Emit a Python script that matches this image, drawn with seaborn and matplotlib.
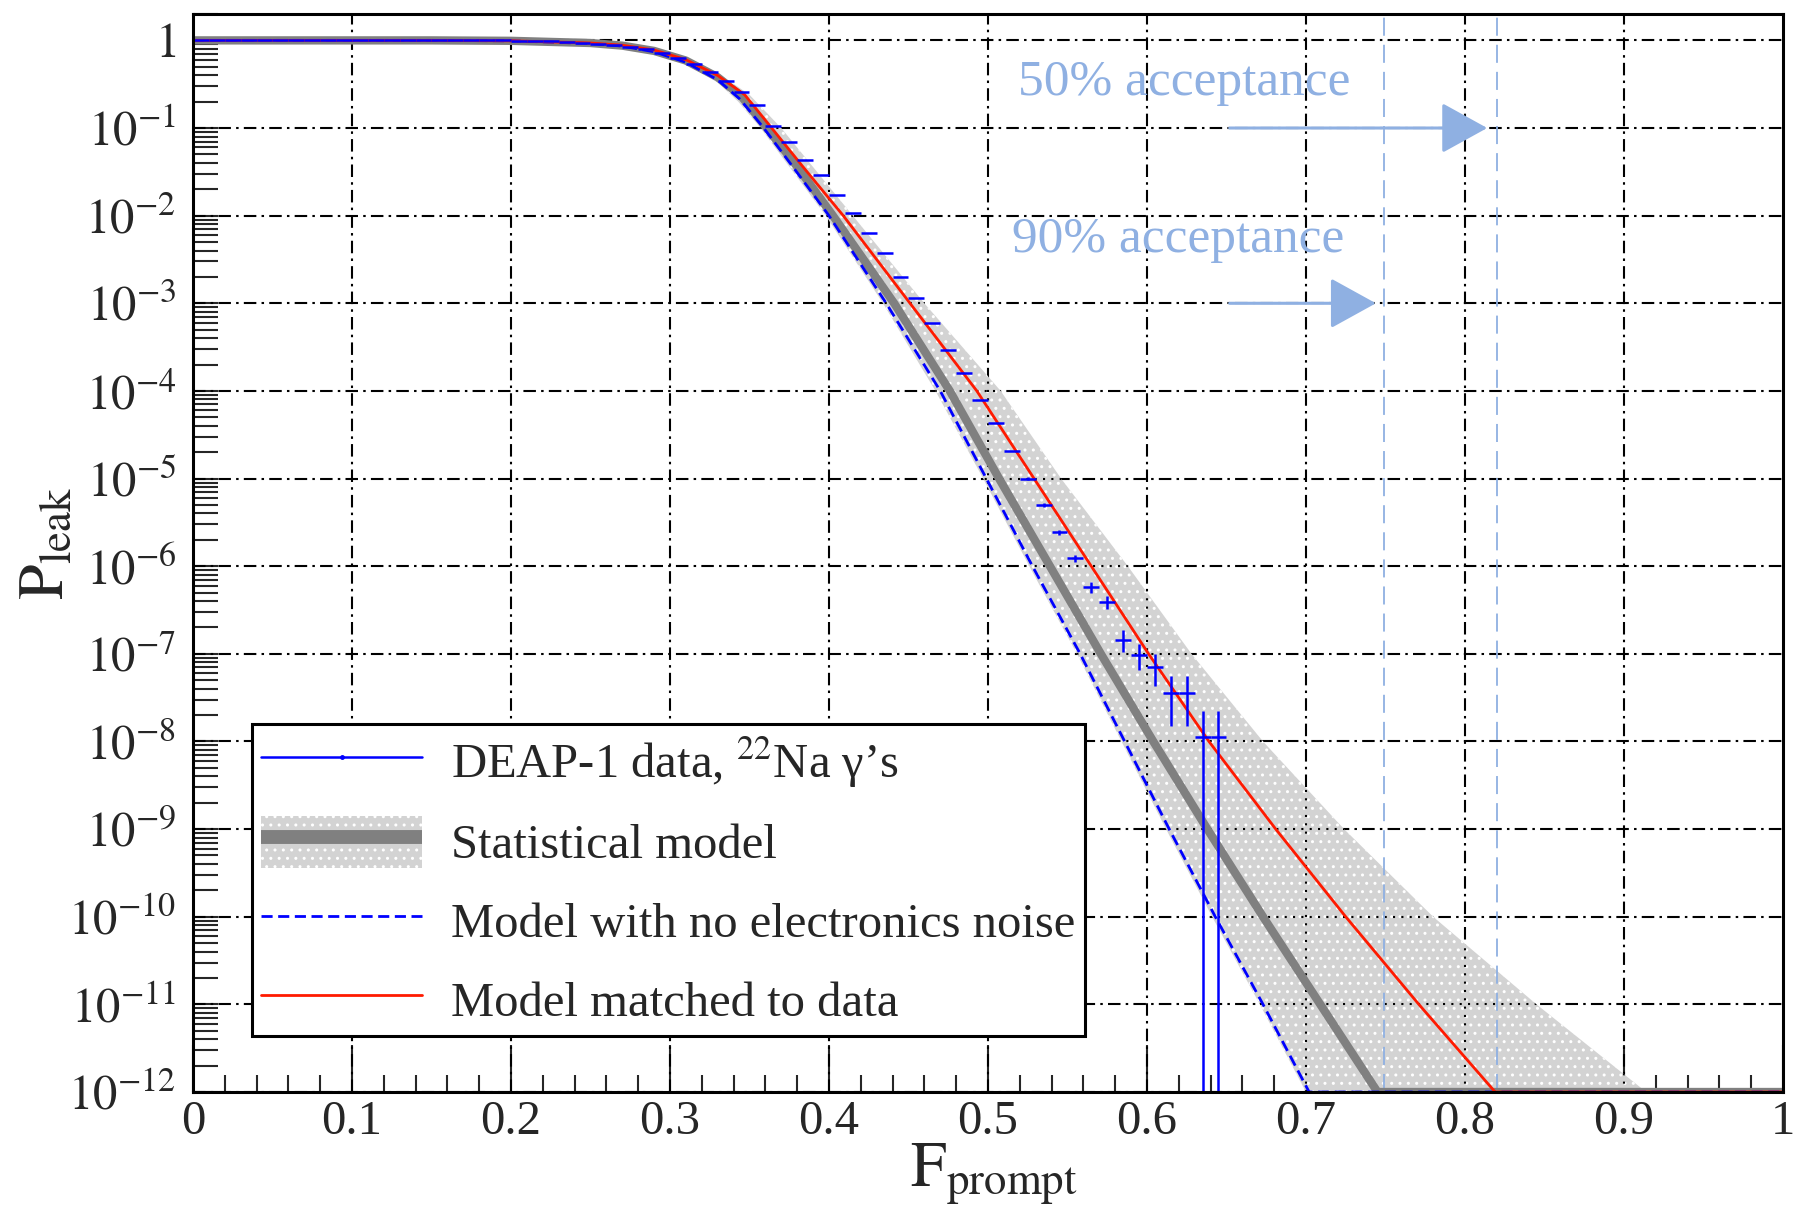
import matplotlib
matplotlib.use("Agg")
import matplotlib.pyplot as plt
from matplotlib.lines import Line2D
from matplotlib.patches import Patch
from matplotlib.ticker import FixedLocator, NullFormatter
import numpy as np
import seaborn as sns

# curves: F_prompt and log10(P_leak)
model_f = [0.0, 0.15, 0.2, 0.25, 0.27, 0.29, 0.31, 0.33, 0.345, 0.361, 0.38, 0.4025,
           0.441, 0.476, 0.507, 0.539, 0.571, 0.604, 0.638, 0.673, 0.709, 0.745, 1.0]
model_logp = [0, 0, -0.005, -0.03, -0.06, -0.12, -0.23, -0.42, -0.64, -1, -1.44, -2,
              -3, -4, -5, -6, -7, -8, -9, -10, -11, -12, -12]

matched_f = [0.0, 0.15, 0.2, 0.25, 0.27, 0.29, 0.31, 0.33, 0.347, 0.364, 0.384, 0.409,
             0.451, 0.493, 0.529, 0.565, 0.601, 0.639, 0.681, 0.725, 0.771, 0.819, 1.0]
matched_logp = [0, 0, -0.005, -0.03, -0.055, -0.11, -0.22, -0.40, -0.62, -1, -1.45, -2,
                -3, -4, -5, -6, -7, -8, -9, -10, -11, -12, -12]

nonoise_f = [0.0, 0.15, 0.2, 0.25, 0.27, 0.29, 0.31, 0.33, 0.344, 0.359, 0.378, 0.400,
             0.436, 0.470, 0.499, 0.528, 0.558, 0.586, 0.614, 0.643, 0.673, 0.702, 1.0]
nonoise_logp = [0, 0, -0.005, -0.035, -0.065, -0.13, -0.25, -0.45, -0.67, -1, -1.46, -2,
                -3, -4, -5, -6, -7, -8, -9, -10, -11, -12, -12]

band_hi_f = [0.0, 0.15, 0.2, 0.25, 0.27, 0.29, 0.31, 0.33, 0.35, 0.370, 0.415, 0.460,
             0.508, 0.546, 0.588, 0.628, 0.673, 0.724, 0.780, 0.845, 0.914]
band_hi_logp = [0, 0, -0.004, -0.025, -0.05, -0.10, -0.20, -0.37, -0.62, -1, -2, -3,
                -4, -5, -6, -7, -8, -9, -10, -11, -12]
band_lo_f = [0.0, 0.15, 0.2, 0.25, 0.27, 0.29, 0.31, 0.33, 0.343, 0.357, 0.398, 0.434,
             0.467, 0.497, 0.526, 0.556, 0.584, 0.612, 0.641, 0.671, 0.700]
band_lo_logp = [0, 0, -0.006, -0.04, -0.07, -0.14, -0.27, -0.48, -0.70, -1, -2, -3,
                -4, -5, -6, -7, -8, -9, -10, -11, -12]

# DEAP-1 22Na data (bin centres, log10 P_leak, relative error)
data_f = [0.005, 0.015, 0.025, 0.035, 0.045, 0.055, 0.065, 0.075, 0.085, 0.095,
          0.105, 0.115, 0.125, 0.135, 0.145, 0.155, 0.165, 0.175, 0.185, 0.195,
          0.205, 0.215, 0.225, 0.235, 0.245, 0.255, 0.265, 0.275, 0.285, 0.295,
          0.305, 0.315, 0.325, 0.335, 0.345, 0.355, 0.365, 0.375, 0.385, 0.395,
          0.405, 0.415, 0.425, 0.435, 0.445, 0.455, 0.465, 0.475, 0.485, 0.495,
          0.505, 0.515, 0.525, 0.535, 0.545, 0.555, 0.565, 0.575, 0.585, 0.595,
          0.605, 0.615, 0.625, 0.635, 0.645]
data_logp = [0, 0, 0, 0, 0, 0, 0, 0, 0, 0,
             0, 0, 0, 0, 0, 0, 0, 0, 0, 0,
             -0.003, -0.005, -0.01, -0.015, -0.025, -0.04, -0.05, -0.07, -0.10, -0.14,
             -0.20, -0.27, -0.36, -0.46, -0.59, -0.74, -0.98, -1.16, -1.37, -1.54,
             -1.77, -1.97, -2.20, -2.43, -2.70, -2.94, -3.23, -3.53, -3.80, -4.10,
             -4.37, -4.68, -5.0, -5.30, -5.61, -5.91, -6.24, -6.41, -6.84, -7.01,
             -7.15, -7.45, -7.45, -7.95, -7.95]
data_rel_err = [0.0] * 52 + [0.033, 0.047, 0.067, 0.095, 0.14, 0.17, 0.28, 0.33,
                             0.40, 0.58, 0.58, 1.0, 1.0]
bin_half_width = 0.005

accept_50 = 0.820
accept_90 = 0.749
arrow_start = 0.652

x_ticks = [0, 0.1, 0.2, 0.3, 0.4, 0.5, 0.6, 0.7, 0.8, 0.9, 1.0]
x_labels = ["0", "0.1", "0.2", "0.3", "0.4", "0.5", "0.6", "0.7", "0.8", "0.9", "1"]
y_exps = list(range(0, -13, -1))
y_labels = ["$1$"] + [f"$10^{{{e}}}$" for e in y_exps[1:]]

BLUE = "#0000ff"
RED = "#ff1a00"
GRAY = "#808080"
BAND = "#d3d3d3"
LIGHTBLUE = "#8fb0e2"

sns.set_theme(style="white")
plt.rcParams["font.family"] = ["Liberation Serif", "DejaVu Serif"]
plt.rcParams["mathtext.fontset"] = "stix"
plt.rcParams["hatch.linewidth"] = 1.0


def pow10(vals):
    return [10.0 ** v for v in vals]


fig = plt.figure(figsize=(17.93, 12.17), dpi=100)
ax = fig.add_axes([0.1076, 0.1027, 0.8868, 0.8858])
ax.set_yscale("log")
ax.set_xlim(0, 1)
ax.set_ylim(1e-12, 2.0)

# grid in ROOT dash-dot style
grid_style = dict(color="black", lw=1.5, ls=(0, (6, 2.5, 1.2, 2.5)), zorder=1)
for xt in x_ticks[1:-1]:
    ax.axvline(xt, **grid_style)
for e in y_exps:
    ax.axhline(10.0 ** e, **grid_style)

# statistical model band
band_x = band_hi_f + band_lo_f[::-1]
band_y = pow10(band_hi_logp) + pow10(band_lo_logp[::-1])
band = ax.fill(band_x, band_y, facecolor=BAND, edgecolor="white", hatch="..",
               lw=0, zorder=2)[0]
# grid seen through the band pattern as dots
for xt in x_ticks[1:-1]:
    ln = ax.axvline(xt, color="black", lw=1.5, ls=(0, (1, 3)), zorder=3)
    ln.set_clip_path(band)
for e in y_exps[1:]:
    ln = ax.axhline(10.0 ** e, color="black", lw=1.5, ls=(0, (1, 3)), zorder=3)
    ln.set_clip_path(band)

for xa in (accept_90, accept_50):
    ax.axvline(xa, color=LIGHTBLUE, lw=1.3, ls=(0, (10, 5)), zorder=4)

sns.lineplot(x=model_f, y=pow10(model_logp), ax=ax, color=GRAY, lw=6, zorder=5)
sns.lineplot(x=nonoise_f, y=pow10(nonoise_logp), ax=ax, color=BLUE, lw=2,
             linestyle=(0, (4, 2)), zorder=6)
sns.lineplot(x=matched_f, y=pow10(matched_logp), ax=ax, color=RED, lw=2, zorder=7)

data_p = np.array(pow10(data_logp))
rel = np.array(data_rel_err)
err_lo = data_p * np.minimum(rel, 0.999999)
err_hi = data_p * rel
ax.errorbar(data_f, data_p, xerr=bin_half_width, yerr=[err_lo, err_hi], fmt="none",
            ecolor=BLUE, elinewidth=1.8, capsize=0, zorder=8)

# acceptance arrows and labels
arrow_kw = dict(arrowstyle="-|>,head_length=1.45,head_width=0.8", color=LIGHTBLUE,
                lw=2.2, mutation_scale=20, shrinkA=0, shrinkB=0)
ax.annotate("", xy=(accept_50 - 0.006, 1e-1), xytext=(arrow_start, 1e-1),
            arrowprops=arrow_kw, zorder=9)
ax.annotate("", xy=(accept_90 - 0.005, 1e-3), xytext=(arrow_start, 1e-3),
            arrowprops=arrow_kw, zorder=9)
ax.text(0.519, 10 ** -0.48, "50% acceptance", color=LIGHTBLUE, fontsize=37,
        ha="left", va="center", zorder=9)
ax.text(0.515, 10 ** -2.28, "90% acceptance", color=LIGHTBLUE, fontsize=37,
        ha="left", va="center", zorder=9)

# axes, ticks
ax.xaxis.set_major_locator(FixedLocator(x_ticks))
ax.set_xticklabels(x_labels)
ax.xaxis.set_minor_locator(FixedLocator([i / 50 for i in range(51)]))
ax.yaxis.set_major_locator(FixedLocator([10.0 ** e for e in y_exps]))
ax.set_yticklabels(y_labels)
minor_y = [m * 10.0 ** e for e in range(-12, 1) for m in range(2, 10)]
ax.yaxis.set_minor_locator(FixedLocator(minor_y))
ax.yaxis.set_minor_formatter(NullFormatter())

ax.tick_params(axis="x", which="major", direction="in", length=34, width=1.5,
               labelsize=35, pad=6, top=False, bottom=True)
ax.tick_params(axis="x", which="minor", direction="in", length=12, width=1.5,
               top=False, bottom=True)
ax.tick_params(axis="y", which="major", direction="in", length=18, width=1.5,
               labelsize=35, pad=12, right=False, left=True)
ax.tick_params(axis="y", which="minor", direction="in", length=18, width=1.5,
               right=False, left=True)
for side in ax.spines.values():
    side.set_linewidth(2.2)
    side.set_color("black")
    side.set_zorder(10)

ax.set_xlabel(r"$\mathrm{F}_{\mathrm{prompt}}$", fontsize=46)
ax.xaxis.set_label_coords(0.504, -0.046)
ax.set_ylabel(r"$\mathrm{P}_{\mathrm{leak}}$", fontsize=46)
ax.yaxis.set_label_coords(-0.073, 0.509)

handles = [
    Line2D([], [], color=BLUE, lw=1.8, marker=".", ms=5),
    (Patch(facecolor=BAND, edgecolor="white", hatch="..", lw=0),
     Line2D([], [], color=GRAY, lw=10, solid_capstyle="butt")),
    Line2D([], [], color=BLUE, lw=2, ls=(0, (4, 2))),
    Line2D([], [], color=RED, lw=2),
]
labels = [
    "DEAP-1 data, $^{22}$Na γ’s",
    "Statistical model",
    "Model with no electronics noise",
    "Model matched to data",
]
leg = ax.legend(handles, labels, loc="upper left", bbox_to_anchor=(0.037, 0.341),
                fontsize=35, frameon=True, fancybox=False, edgecolor="black",
                framealpha=1, borderpad=0.2, handlelength=3.3, handleheight=1.25,
                handletextpad=0.6, labelspacing=0.55, borderaxespad=0)
leg.get_frame().set_linewidth(2.2)
leg.set_zorder(11)

fig.savefig("out.png", dpi=100)
